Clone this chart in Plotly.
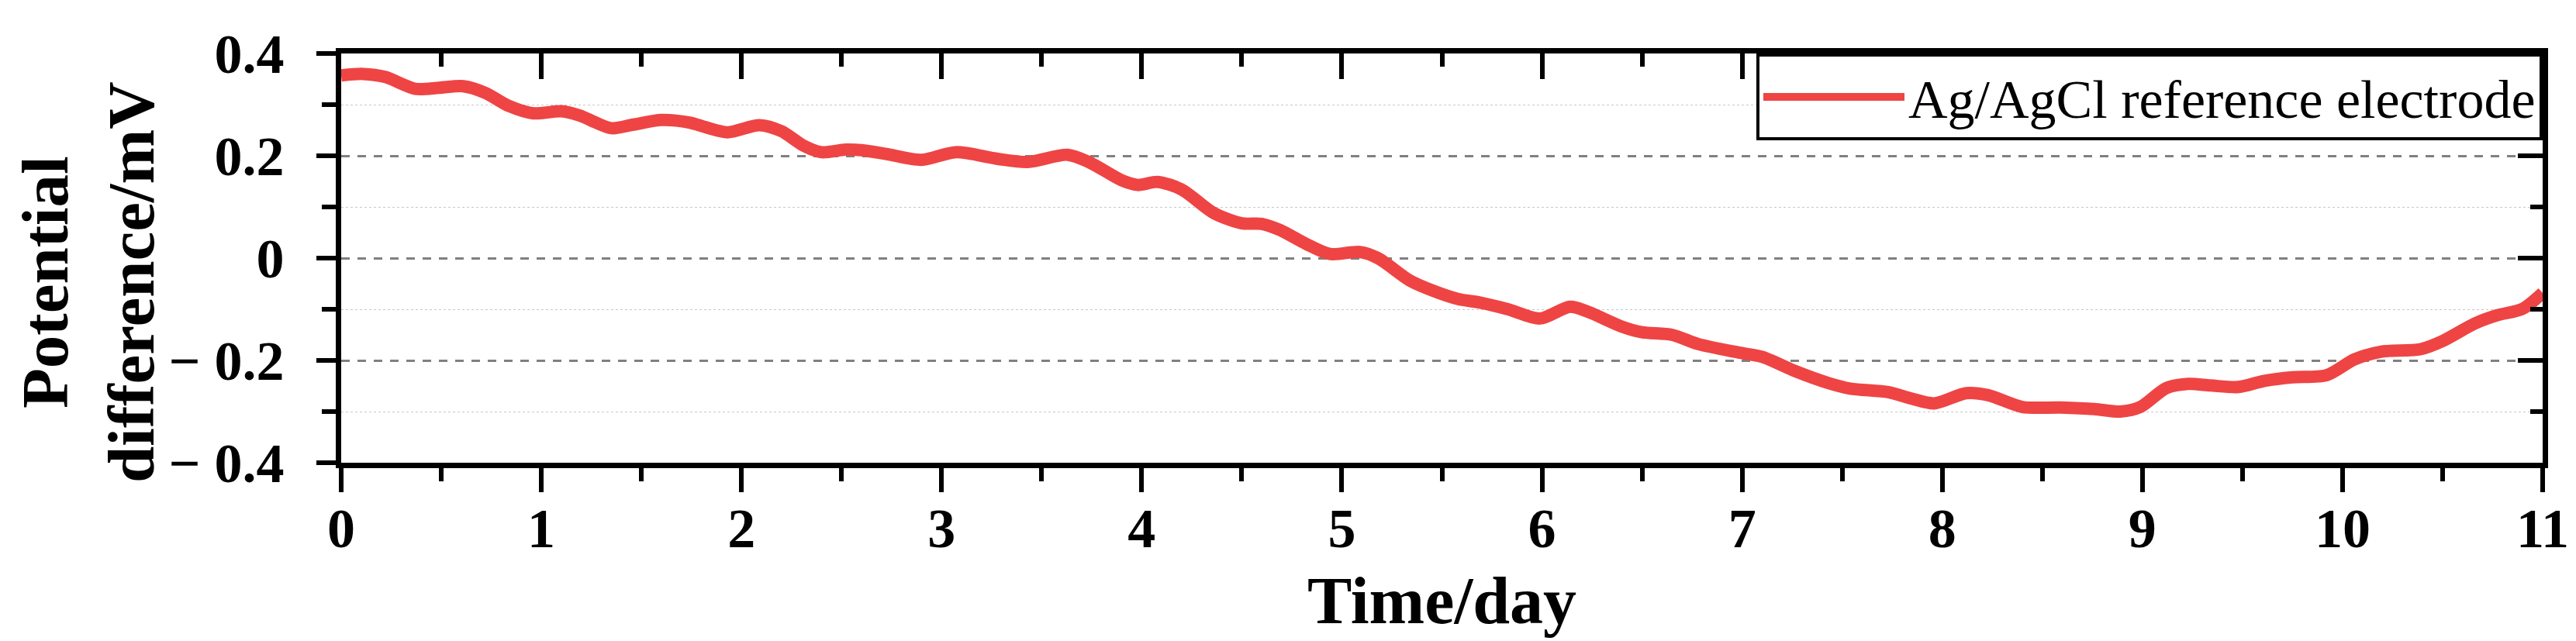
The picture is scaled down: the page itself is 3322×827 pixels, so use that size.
import plotly.graph_objects as go

# ---- data ----
days = [0, 0.11, 0.22, 0.37, 0.49, 0.61, 0.72, 0.84, 0.96, 1.1, 1.19, 1.35, 1.46, 1.6,
        1.74, 1.82, 1.93, 2.09, 2.2, 2.31, 2.4, 2.52, 2.6, 2.73, 2.9, 3.07, 3.28, 3.43,
        3.63, 3.74, 3.9, 3.98, 4.08, 4.2, 4.36, 4.5, 4.6, 4.69, 4.82, 4.94, 5.09, 5.18,
        5.34, 5.45, 5.58, 5.69, 5.83, 5.99, 6.14, 6.23, 6.4, 6.5, 6.65, 6.78, 6.99, 7.1,
        7.26, 7.43, 7.54, 7.73, 7.85, 7.96, 8.12, 8.23, 8.4, 8.59, 8.76, 8.89, 8.99, 9.12,
        9.23, 9.34, 9.48, 9.61, 9.75, 9.92, 10.06, 10.19, 10.39, 10.5, 10.66, 10.77, 10.9, 11.0]
potential = [0.357, 0.360, 0.354, 0.331, 0.333, 0.336, 0.323, 0.297, 0.283, 0.287, 0.279,
             0.254, 0.261, 0.270, 0.265, 0.256, 0.246, 0.260, 0.248, 0.220, 0.207, 0.212,
             0.211, 0.203, 0.192, 0.207, 0.194, 0.188, 0.202, 0.187, 0.152, 0.143, 0.149,
             0.134, 0.088, 0.068, 0.067, 0.055, 0.028, 0.008, 0.012, 0.000, -0.044, -0.063,
             -0.080, -0.087, -0.100, -0.118, -0.095, -0.105, -0.134, -0.145, -0.150, -0.168,
             -0.185, -0.193, -0.220, -0.244, -0.255, -0.262, -0.275, -0.284, -0.264, -0.268,
             -0.291, -0.292, -0.295, -0.300, -0.291, -0.254, -0.246, -0.249, -0.252, -0.240,
             -0.233, -0.229, -0.198, -0.183, -0.178, -0.162, -0.128, -0.112, -0.099, -0.068]
series_name = "Ag/AgCl reference electrode"
x_title = "Time/day"
y_title = "Potential<br>difference/mV"
y_tick_vals = [-0.4, -0.2, 0, 0.2, 0.4]
y_tick_text = ["\u2212 0.4", "\u2212 0.2", "0", "0.2", "0.4"]
y_minor_vals = [-0.3, -0.1, 0.1, 0.3]

FONT = "Liberation Serif"
RED = "#ef4444"

fig = go.Figure()
fig.add_trace(go.Scatter(
    x=days, y=potential, mode="lines", name=series_name,
    line=dict(color=RED, width=16, shape="spline", smoothing=0.8),
))
# invisible copy so the mirrored (top / right) axes with inward ticks are drawn
fig.add_trace(go.Scatter(
    x=days, y=potential, mode="lines", xaxis="x2", yaxis="y2",
    line=dict(width=0, color=RED), opacity=0, showlegend=False, hoverinfo="skip",
))

tick_common = dict(tickcolor="black", tickwidth=6, linecolor="black", linewidth=7,
                   showline=True, zeroline=False)

L, R, T, B = 432, 51, 61, 238
W, H = 3322, 827
PW, PH = W - L - R, H - T - B


def px(x):
    return (x - L) / PW


def py(y):
    return (H - B - y) / PH


fig.update_layout(
    width=W, height=H,
    margin=dict(l=L, r=R, t=T, b=B),
    plot_bgcolor="white", paper_bgcolor="white",
    font=dict(family=FONT, color="black"),
    showlegend=True,
    xaxis=dict(
        range=[0, 11], tick0=0, dtick=1, ticks="outside", ticklen=31,
        showgrid=False,
        minor=dict(dtick=0.5, ticks="outside", ticklen=17, tickwidth=6,
                   tickcolor="black", showgrid=False),
        tickfont=dict(size=72, family=FONT, weight="bold"),
        ticklabelstandoff=-15,
        title=dict(text=x_title, font=dict(size=86, family=FONT, weight="bold"),
                   standoff=25),
        **tick_common,
    ),
    xaxis2=dict(
        overlaying="x", matches="x", side="top", range=[0, 11], tick0=0, dtick=1,
        ticks="inside", ticklen=33, showticklabels=False, showgrid=False,
        minor=dict(dtick=0.5, ticks="inside", ticklen=17, tickwidth=6,
                   tickcolor="black", showgrid=False),
        **tick_common,
    ),
    yaxis=dict(
        range=[-0.4, 0.4], tickmode="array", tickvals=y_tick_vals, ticktext=y_tick_text,
        ticks="outside", ticklen=25,
        showgrid=True, gridcolor="#808080", gridwidth=3, griddash="11px,10px",
        minor=dict(tickmode="array", tickvals=y_minor_vals, ticks="outside",
                   ticklen=18, tickwidth=6, tickcolor="black", showgrid=True,
                   gridcolor="#c8c8c8", gridwidth=1.2, griddash="3px,3px"),
        tickfont=dict(size=72, family=FONT, weight="bold"),
        ticklabelstandoff=27,
        **tick_common,
    ),
    yaxis2=dict(
        overlaying="y", matches="y", side="right", range=[-0.4, 0.4],
        tickmode="array", tickvals=y_tick_vals,
        ticks="inside", ticklen=32, showticklabels=False, showgrid=False,
        minor=dict(tickmode="array", tickvals=y_minor_vals, ticks="inside",
                   ticklen=16, tickwidth=6, tickcolor="black", showgrid=False),
        **tick_common,
    ),
    legend=dict(
        x=1, xanchor="right", y=1, yanchor="top",
        bordercolor="black", borderwidth=4, bgcolor="white",
        font=dict(size=70, family=FONT, color="black"),
        itemwidth=182,
    ),
    annotations=[dict(
        text=y_title, textangle=-90, xref="paper", yref="paper",
        x=px(105), y=py(356), xanchor="center", yanchor="middle", showarrow=False,
        font=dict(size=85, family=FONT, weight="bold", color="black"),
    )],
)

fig.write_html("out.html")
